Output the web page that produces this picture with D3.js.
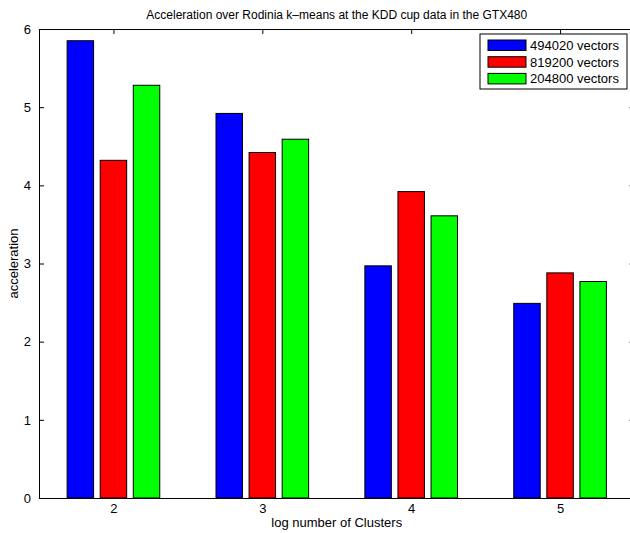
<!DOCTYPE html>
<html>
<head>
<meta charset="utf-8">
<script src="https://cdn.jsdelivr.net/npm/d3@7.9.0/dist/d3.min.js"></script>
<style>
  body { margin: 0; background: #fff; }
  svg { display: block; font-family: "Liberation Sans", Arial, sans-serif; }
</style>
</head>
<body>
<div id="chart"></div>
<script>
// chart data
const clusters = [2, 3, 4, 5];
const seriesNames = ['494020 vectors', '819200 vectors', '204800 vectors'];
const seriesColors = ['#0000ff', '#ff0000', '#00ff00'];
const vectors494020 = [5.85, 4.92, 2.97, 2.49];
const vectors819200 = [4.32, 4.42, 3.92, 2.88];
const vectors204800 = [5.28, 4.59, 3.61, 2.77];
const yTicks = [0, 1, 2, 3, 4, 5, 6];

const series = [vectors494020, vectors819200, vectors204800];

const width = 630, height = 533;
const area = { left: 39, right: 634.5, top: 29, bottom: 498 };

const svg = d3.select('#chart').append('svg')
  .attr('width', width).attr('height', height);

// x runs over group index like matlab bar(), 1..n with half a slot on each side
const xScale = d3.scaleLinear()
  .domain([0.5, clusters.length + 0.5])
  .range([area.left, area.right]);

const yScale = d3.scaleLinear()
  .domain([0, 6])
  .range([area.bottom, area.top]);

const groupWidth = Math.min(0.8, series.length / (series.length + 1.5));
const slot = groupWidth / series.length;
const barW = slot * 0.8;

// bars
const bars = svg.append('g').attr('class', 'bars');
series.forEach((vals, s) => {
  const off = (s - (series.length - 1) / 2) * slot;
  bars.selectAll(null)
    .data(vals)
    .join('rect')
    .attr('x', (d, i) => xScale(i + 1 + off - barW / 2))
    .attr('width', (d, i) => xScale(i + 1 + off + barW / 2) - xScale(i + 1 + off - barW / 2))
    .attr('y', d => yScale(d))
    .attr('height', d => yScale(0) - yScale(d))
    .attr('fill', seriesColors[s])
    .attr('stroke', '#000')
    .attr('stroke-width', 1);
});

// axes box
const tickLen = 5;
const axisG = svg.append('g');

const yAxis = d3.axisLeft(yScale).tickValues(yTicks).tickFormat(d3.format('d'))
  .tickSizeInner(-tickLen).tickSizeOuter(0).tickPadding(8);
axisG.append('g').attr('transform', `translate(${area.left},0)`).call(yAxis);

const yAxisR = d3.axisRight(yScale).tickValues(yTicks).tickSizeInner(-tickLen).tickSizeOuter(0).tickFormat('');
axisG.append('g').attr('transform', `translate(${area.right},0)`).call(yAxisR);

const xAxis = d3.axisBottom(xScale).tickValues(clusters.map((c, i) => i + 1))
  .tickFormat((d, i) => clusters[i]).tickSize(0).tickPadding(6);
axisG.append('g').attr('transform', `translate(0,${area.bottom})`).call(xAxis);

const xAxisTop = d3.axisTop(xScale).tickValues(clusters.map((c, i) => i + 1))
  .tickSizeInner(-tickLen).tickSizeOuter(0).tickFormat('');
axisG.append('g').attr('transform', `translate(0,${area.top})`).call(xAxisTop);

axisG.selectAll('g').attr('font-size', 13).attr('font-family', '"Liberation Sans", Arial, sans-serif');
axisG.selectAll('.domain').attr('stroke', '#000').attr('stroke-width', 1);
axisG.selectAll('.tick line').attr('stroke', '#000');
axisG.selectAll('.tick text').attr('fill', '#000');

// titles
svg.append('text')
  .attr('x', (area.left + area.right) / 2).attr('y', 19)
  .attr('text-anchor', 'middle').attr('font-size', 12)
  .text('Acceleration over Rodinia k\u2013means at the KDD cup data in the GTX480');

svg.append('text')
  .attr('x', (area.left + area.right) / 2).attr('y', 527)
  .attr('text-anchor', 'middle').attr('font-size', 13)
  .text('log number of Clusters');

svg.append('text')
  .attr('transform', `translate(18,${(area.top + area.bottom) / 2}) rotate(-90)`)
  .attr('text-anchor', 'middle').attr('font-size', 13)
  .text('acceleration');

// legend
const legend = svg.append('g').attr('transform', 'translate(480,34)');
legend.append('rect')
  .attr('width', 147).attr('height', 55)
  .attr('fill', '#fff').attr('stroke', '#000');
seriesNames.forEach((name, s) => {
  const row = legend.append('g').attr('transform', `translate(8,${6 + s * 16.7})`);
  row.append('rect')
    .attr('width', 38).attr('height', 10.5)
    .attr('fill', seriesColors[s]).attr('stroke', '#000');
  row.append('text')
    .attr('x', 42).attr('y', 10)
    .attr('font-size', 13)
    .text(name);
});
</script>
</body>
</html>
